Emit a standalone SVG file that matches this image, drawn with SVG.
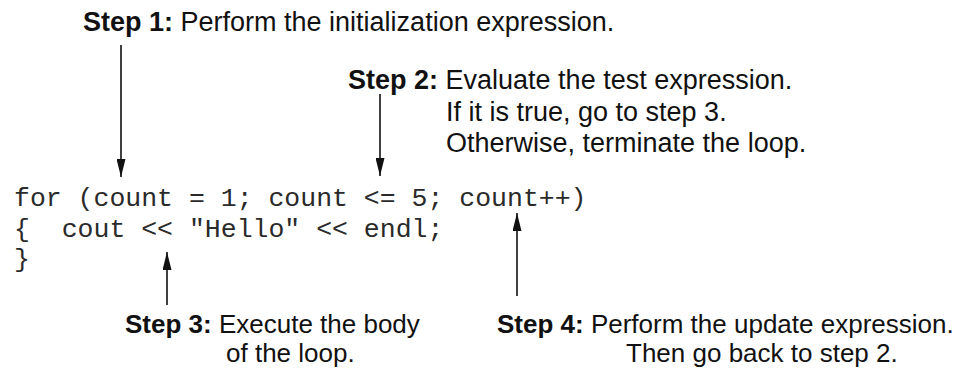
<svg xmlns="http://www.w3.org/2000/svg" width="971" height="369" viewBox="0 0 971 369">
  <defs>
    <!-- slim filled arrowhead, drawn at the line end -->
    <marker id="head" viewBox="0 0 18 9" refX="18" refY="4.5" markerWidth="18" markerHeight="9" markerUnits="userSpaceOnUse" orient="auto">
      <path d="M0,0 L18,4.5 L0,9 z" fill="#111"/>
    </marker>
    <style>
      .lbl { font-family: "Liberation Sans", Arial, sans-serif; font-size: 26px; fill: #111; }
      .big { font-size: 27px; }
      .b { font-weight: bold; }
      .code { font-family: "Liberation Mono", "Courier New", monospace; font-size: 26.5px; fill: #2a2a2a; white-space: pre; }
      .arrow { stroke: #111; stroke-width: 1.6; fill: none; marker-end: url(#head); }
    </style>
  </defs>
  <rect width="971" height="369" fill="#fff"/>

  <!-- for-loop source -->
  <g id="code">
    <text class="code" x="14" y="206" xml:space="preserve">for (count = 1; count &lt;= 5; count++)</text>
    <text class="code" x="14" y="237" xml:space="preserve">{  cout &lt;&lt; "Hello" &lt;&lt; endl;</text>
    <text class="code" x="14" y="267" xml:space="preserve">}</text>
  </g>

  <g id="step1">
    <text class="lbl big" x="83" y="31"><tspan class="b">Step 1:</tspan> Perform the initialization expression.</text>
  </g>

  <g id="step2">
    <text class="lbl big" x="348" y="89"><tspan class="b">Step 2:</tspan> Evaluate the test expression.</text>
    <text class="lbl big" x="446" y="121">If it is true, go to step 3.</text>
    <text class="lbl big" x="446" y="152">Otherwise, terminate the loop.</text>
  </g>

  <g id="step3">
    <text class="lbl" x="125" y="333"><tspan class="b">Step 3:</tspan> Execute the body</text>
    <text class="lbl" x="226" y="362">of the loop.</text>
  </g>

  <g id="step4">
    <text class="lbl" x="497" y="333"><tspan class="b">Step 4:</tspan> Perform the update expression.</text>
    <text class="lbl" x="626" y="362">Then go back to step 2.</text>
  </g>

  <g id="connectors">
    <line class="arrow" x1="121" y1="45" x2="121" y2="177"/>
    <line class="arrow" x1="380" y1="94" x2="380" y2="176"/>
    <line class="arrow" x1="167" y1="305" x2="167" y2="252"/>
    <line class="arrow" x1="517" y1="296" x2="517" y2="213"/>
  </g>
</svg>
